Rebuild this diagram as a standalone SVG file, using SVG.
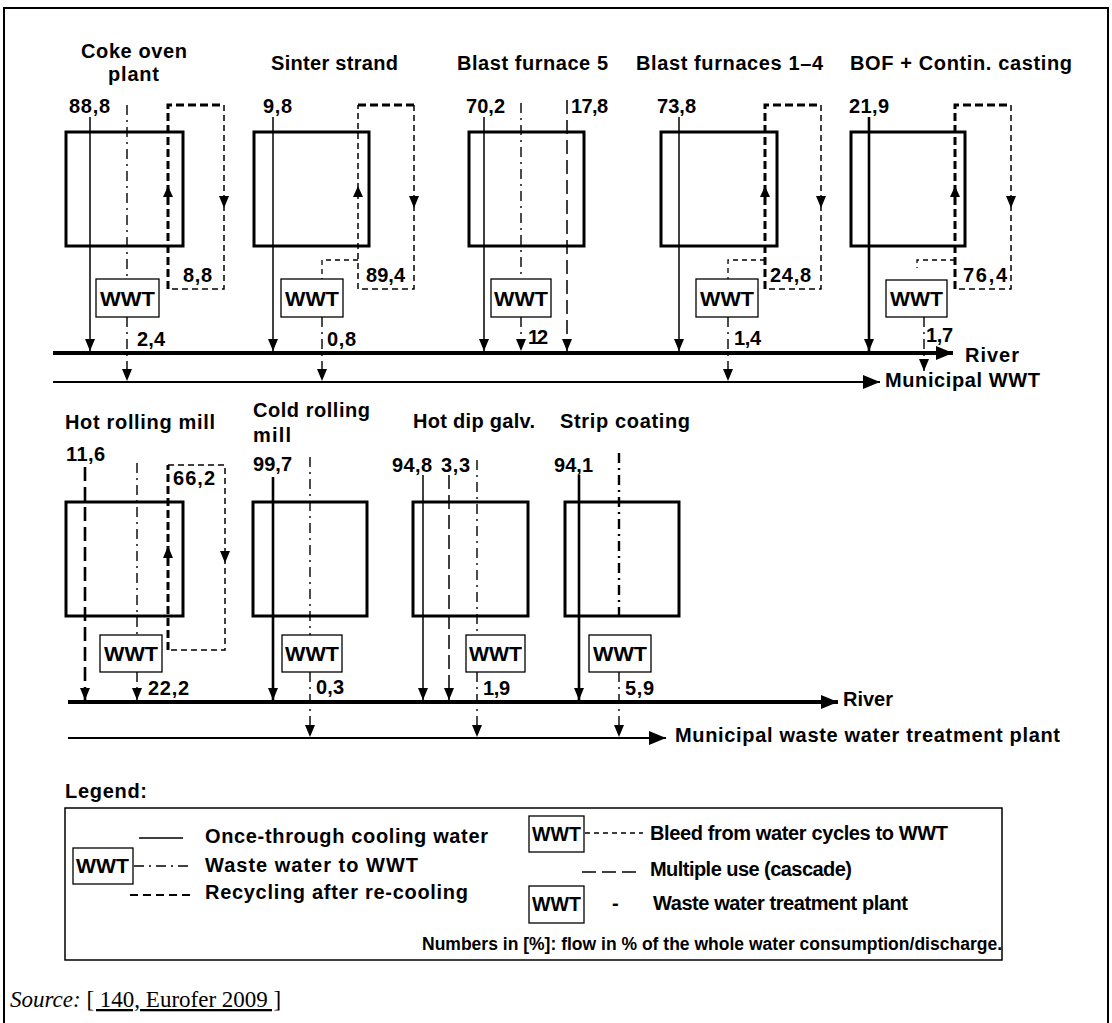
<svg xmlns="http://www.w3.org/2000/svg" width="1112" height="1023" viewBox="0 0 1112 1023">
<style>
text{font-family:"Liberation Sans",Arial,sans-serif;font-weight:bold;font-size:20px;fill:#000}
.sm{font-size:17.5px}
.wt{font-size:20px}
.src{font-family:"Liberation Serif","Times New Roman",serif;font-weight:normal;font-size:23px}
.box{fill:none;stroke:#000;stroke-width:3}
.wwt{fill:#fff;stroke:#000;stroke-width:1.3}
.solid{fill:none;stroke:#000;stroke-width:1.5}
.solidT{fill:none;stroke:#000;stroke-width:2.6}
.dd{fill:none;stroke:#000;stroke-width:1.4;stroke-dasharray:10 5 2 5}
.ddT{fill:none;stroke:#000;stroke-width:2.4;stroke-dasharray:10 5 2 5}
.rcT{fill:none;stroke:#000;stroke-width:3;stroke-dasharray:8 4}
.rc{fill:none;stroke:#000;stroke-width:1.5;stroke-dasharray:6 4}
.bl{fill:none;stroke:#000;stroke-width:1.3;stroke-dasharray:5 4}
.cs{fill:none;stroke:#000;stroke-width:1.5;stroke-dasharray:14 6}
.csT{fill:none;stroke:#000;stroke-width:2.6;stroke-dasharray:14 6}
.river{fill:none;stroke:#000;stroke-width:4}
.muni{fill:none;stroke:#000;stroke-width:2}
.ah{fill:#000}
</style>
<defs>
<marker id="a" viewBox="0 0 12 10" refX="12" refY="5" markerWidth="12" markerHeight="10" orient="auto" markerUnits="userSpaceOnUse"><path d="M0,0 L12,5 L0,10 Z" fill="#000"/></marker>
<marker id="b" viewBox="0 0 17 14" refX="17" refY="7" markerWidth="17" markerHeight="14" orient="auto" markerUnits="userSpaceOnUse"><path d="M0,0 L17,7 L0,14 Z" fill="#000"/></marker>
</defs>
<rect width="1112" height="1023" fill="#fff"/>
<path d="M4,1023 V8 H1108 V1023" fill="none" stroke="#000" stroke-width="2"/>

<g id="connectors">
<line class="river" x1="53" y1="353" x2="953" y2="353" marker-end="url(#b)"/>
<line class="muni" x1="53" y1="382" x2="880" y2="382" marker-end="url(#b)"/>
<line class="solid" x1="90" y1="117" x2="90" y2="351" marker-end="url(#a)"/>
<line class="dd" x1="127" y1="105" x2="127" y2="279"/>
<line class="dd" x1="127" y1="317" x2="127" y2="381" marker-end="url(#a)"/>
<path class="rcT" d="M168,289 V105 H224"/>
<path class="rc" d="M224,105 V289 H168"/>
<polygon class="ah" points="163,197 173,197 168,186"/>
<polygon class="ah" points="219,196 229,196 224,208"/>
<line class="solid" x1="273" y1="117" x2="273" y2="351" marker-end="url(#a)"/>
<path class="rc" d="M358,289 V105"/>
<path class="rcT" d="M358,105 H414"/>
<path class="rc" d="M414,105 V289 H358"/>
<path class="bl" d="M358,260 H322 V279"/>
<line class="dd" x1="322" y1="317" x2="322" y2="381" marker-end="url(#a)"/>
<polygon class="ah" points="353,197 363,197 358,186"/>
<polygon class="ah" points="409,196 419,196 414,208"/>
<line class="solid" x1="484" y1="117" x2="484" y2="351" marker-end="url(#a)"/>
<line class="dd" x1="521" y1="103" x2="521" y2="279"/>
<line class="dd" x1="521" y1="317" x2="521" y2="351" marker-end="url(#a)"/>
<line class="cs" x1="567" y1="100" x2="567" y2="351" marker-end="url(#a)"/>
<line class="solid" x1="679" y1="117" x2="679" y2="351" marker-end="url(#a)"/>
<path class="rcT" d="M765,289 V105 H821"/>
<path class="rc" d="M821,105 V289 H765"/>
<path class="bl" d="M765,260 H728 V279"/>
<line class="dd" x1="728" y1="317" x2="728" y2="381" marker-end="url(#a)"/>
<polygon class="ah" points="760,197 770,197 765,186"/>
<polygon class="ah" points="816,196 826,196 821,208"/>
<line class="solidT" x1="869" y1="117" x2="869" y2="351" marker-end="url(#a)"/>
<path class="rcT" d="M955,289 V105 H1011"/>
<path class="rc" d="M1011,105 V289 H955"/>
<path class="bl" d="M955,260 H917 V268"/>
<line class="dd" x1="924" y1="317" x2="924" y2="371" marker-end="url(#a)"/>
<polygon class="ah" points="950,197 960,197 955,186"/>
<polygon class="ah" points="1006,196 1016,196 1011,208"/>

<line class="river" x1="68" y1="702" x2="838" y2="702" marker-end="url(#b)"/>
<line class="muni" x1="68" y1="738" x2="666" y2="738" marker-end="url(#b)"/>
<line class="csT" x1="85" y1="467" x2="85" y2="700" marker-end="url(#a)"/>
<line class="dd" x1="137" y1="463" x2="137" y2="635"/>
<line class="dd" x1="137" y1="672" x2="137" y2="700" marker-end="url(#a)"/>
<path class="rcT" d="M168,650 V465"/>
<path class="rc" d="M168,465 H225 V650 H168"/>
<polygon class="ah" points="163,558 173,558 168,546"/>
<polygon class="ah" points="220,551 230,551 225,563"/>
<line class="solidT" x1="273" y1="477" x2="273" y2="700" marker-end="url(#a)"/>
<line class="dd" x1="310" y1="457" x2="310" y2="635"/>
<line class="dd" x1="310" y1="672" x2="310" y2="737" marker-end="url(#a)"/>
<line class="solid" x1="423" y1="475" x2="423" y2="700" marker-end="url(#a)"/>
<line class="cs" x1="449" y1="475" x2="449" y2="700" marker-end="url(#a)"/>
<line class="dd" x1="477" y1="460" x2="477" y2="635"/>
<line class="dd" x1="477" y1="672" x2="477" y2="737" marker-end="url(#a)"/>
<line class="solidT" x1="579" y1="475" x2="579" y2="700" marker-end="url(#a)"/>
<line class="ddT" x1="619" y1="453" x2="619" y2="620"/>
<line class="dd" x1="619" y1="672" x2="619" y2="737" marker-end="url(#a)"/>
</g>

<g id="coke-oven">
<rect class="box" x="66" y="132" width="117" height="114"/>
<text x="81" y="58" textLength="106" lengthAdjust="spacing">Coke oven</text>
<text x="108" y="81" textLength="51" lengthAdjust="spacing">plant</text>
<text x="69" y="113" textLength="41" lengthAdjust="spacing">88,8</text>
<text x="183" y="282" textLength="29" lengthAdjust="spacing">8,8</text>
<text x="137" y="346" textLength="28" lengthAdjust="spacing">2,4</text>
</g>
<g id="coke-oven-wwt"><rect class="wwt" x="96" y="279" width="63" height="38"/><text class="wt" x="100" y="306" textLength="55" lengthAdjust="spacingAndGlyphs">WWT</text></g>

<g id="sinter-strand">
<rect class="box" x="254" y="132" width="115" height="114"/>
<text x="271" y="70" textLength="127" lengthAdjust="spacing">Sinter strand</text>
<text x="263" y="113" textLength="29" lengthAdjust="spacing">9,8</text>
<text x="366" y="282" textLength="39" lengthAdjust="spacing">89,4</text>
<text x="327" y="346" textLength="29" lengthAdjust="spacing">0,8</text>
</g>
<g id="sinter-wwt"><rect class="wwt" x="281" y="279" width="62" height="38"/><text class="wt" x="285" y="306" textLength="54" lengthAdjust="spacingAndGlyphs">WWT</text></g>

<g id="blast-furnace-5">
<rect class="box" x="469" y="132" width="115" height="114"/>
<text x="457" y="70" textLength="151" lengthAdjust="spacing">Blast furnace 5</text>
<text x="466" y="113" textLength="39" lengthAdjust="spacing">70,2</text>
<text x="571" y="113" textLength="37" lengthAdjust="spacing">17,8</text>
<text x="528" y="344" textLength="20" lengthAdjust="spacing">12</text>
</g>
<g id="bf5-wwt"><rect class="wwt" x="491" y="279" width="60" height="38"/><text class="wt" x="494" y="306" textLength="54" lengthAdjust="spacingAndGlyphs">WWT</text></g>

<g id="blast-furnaces-1-4">
<rect class="box" x="661" y="132" width="116" height="114"/>
<text x="636" y="70" textLength="187" lengthAdjust="spacing">Blast furnaces 1–4</text>
<text x="657" y="113" textLength="39" lengthAdjust="spacing">73,8</text>
<text x="770" y="282" textLength="41" lengthAdjust="spacing">24,8</text>
<text x="734" y="345" textLength="27" lengthAdjust="spacing">1,4</text>
</g>
<g id="bf14-wwt"><rect class="wwt" x="696" y="279" width="62" height="38"/><text class="wt" x="700" y="306" textLength="54" lengthAdjust="spacingAndGlyphs">WWT</text></g>

<g id="bof">
<rect class="box" x="851" y="132" width="114" height="114"/>
<text x="850" y="70" textLength="222" lengthAdjust="spacing">BOF + Contin. casting</text>
<text x="849" y="113" textLength="40" lengthAdjust="spacing">21,9</text>
<text x="963" y="282" textLength="44" lengthAdjust="spacing">76,4</text>
<text x="926" y="342" textLength="27" lengthAdjust="spacing">1,7</text>
</g>
<g id="bof-wwt"><rect class="wwt" x="886" y="280" width="61" height="37"/><text class="wt" x="890" y="306" textLength="53" lengthAdjust="spacingAndGlyphs">WWT</text></g>

<g id="river-upper"><text x="965" y="362" textLength="54" lengthAdjust="spacing">River</text></g>
<g id="municipal-upper"><text x="885" y="387" textLength="155" lengthAdjust="spacing">Municipal WWT</text></g>

<g id="hot-rolling-mill">
<rect class="box" x="66" y="502" width="117" height="114"/>
<text x="65" y="429" textLength="150" lengthAdjust="spacing">Hot rolling mill</text>
<text x="66" y="461" textLength="39" lengthAdjust="spacing">11,6</text>
<text x="173" y="485" textLength="42" lengthAdjust="spacing">66,2</text>
<text x="148" y="695" textLength="41" lengthAdjust="spacing">22,2</text>
</g>
<g id="hrm-wwt"><rect class="wwt" x="100" y="635" width="62" height="37"/><text class="wt" x="104" y="661" textLength="54" lengthAdjust="spacingAndGlyphs">WWT</text></g>

<g id="cold-rolling-mill">
<rect class="box" x="253" y="502" width="114" height="114"/>
<text x="253" y="417" textLength="117" lengthAdjust="spacing">Cold rolling</text>
<text x="253" y="442" textLength="38" lengthAdjust="spacing">mill</text>
<text x="253" y="471" textLength="39" lengthAdjust="spacing">99,7</text>
<text x="316" y="694" textLength="28" lengthAdjust="spacing">0,3</text>
</g>
<g id="crm-wwt"><rect class="wwt" x="282" y="635" width="60" height="37"/><text class="wt" x="285" y="661" textLength="54" lengthAdjust="spacingAndGlyphs">WWT</text></g>

<g id="hot-dip-galv">
<rect class="box" x="413" y="502" width="115" height="114"/>
<text x="413" y="428" textLength="122" lengthAdjust="spacing">Hot dip galv.</text>
<text x="392" y="472" textLength="40" lengthAdjust="spacing">94,8</text>
<text x="441" y="472" textLength="29" lengthAdjust="spacing">3,3</text>
<text x="483" y="695" textLength="27" lengthAdjust="spacing">1,9</text>
</g>
<g id="hdg-wwt"><rect class="wwt" x="466" y="635" width="59" height="37"/><text class="wt" x="469" y="661" textLength="53" lengthAdjust="spacingAndGlyphs">WWT</text></g>

<g id="strip-coating">
<rect class="box" x="565" y="502" width="114" height="114"/>
<text x="560" y="428" textLength="130" lengthAdjust="spacing">Strip coating</text>
<text x="554" y="472" textLength="39" lengthAdjust="spacing">94,1</text>
<text x="625" y="695" textLength="29" lengthAdjust="spacing">5,9</text>
</g>
<g id="sc-wwt"><rect class="wwt" x="589" y="635" width="62" height="37"/><text class="wt" x="593" y="661" textLength="54" lengthAdjust="spacingAndGlyphs">WWT</text></g>

<g id="river-lower"><text x="843" y="706" textLength="50" lengthAdjust="spacing">River</text></g>
<g id="municipal-lower"><text x="675" y="742" textLength="385" lengthAdjust="spacing">Municipal waste water treatment plant</text></g>

<g id="legend">
<text x="65" y="798" textLength="82" lengthAdjust="spacing">Legend:</text>
<rect x="65" y="808" width="937" height="152" fill="none" stroke="#000" stroke-width="1.5"/>
<line x1="139" y1="838" x2="183" y2="838" stroke="#000" stroke-width="1.3"/>
<text x="205" y="843" textLength="283" lengthAdjust="spacing">Once-through cooling water</text>
<rect class="wwt" x="73" y="848" width="60" height="36"/>
<text class="wt" x="76" y="873" textLength="53" lengthAdjust="spacingAndGlyphs">WWT</text>
<line class="dd" x1="134" y1="866" x2="193" y2="866" style="stroke-width:1.3"/>
<text x="205" y="872" textLength="213" lengthAdjust="spacing">Waste water to WWT</text>
<line x1="130" y1="895" x2="193" y2="895" stroke="#000" stroke-width="2" stroke-dasharray="8 5"/>
<text x="205" y="899" textLength="263" lengthAdjust="spacing">Recycling after re-cooling</text>
<rect class="wwt" x="529" y="816" width="55" height="36"/>
<text class="wt" x="532" y="841" textLength="49" lengthAdjust="spacingAndGlyphs">WWT</text>
<line class="bl" x1="585" y1="833" x2="643" y2="833"/>
<text x="650" y="840" textLength="298" lengthAdjust="spacing">Bleed from water cycles to  WWT</text>
<line x1="582" y1="872" x2="636" y2="872" stroke="#000" stroke-width="1.3" stroke-dasharray="14 6"/>
<text x="650" y="876" textLength="202" lengthAdjust="spacing">Multiple use (cascade)</text>
<rect class="wwt" x="529" y="886" width="55" height="37"/>
<text class="wt" x="532" y="911" textLength="49" lengthAdjust="spacingAndGlyphs">WWT</text>
<text x="612" y="910">-</text>
<text x="653" y="910" textLength="255" lengthAdjust="spacing">Waste water treatment plant</text>
<text class="sm" x="422" y="950" textLength="580" lengthAdjust="spacing">Numbers in [%]: flow in % of the whole water consumption/discharge.</text>
</g>

<g id="source">
<text class="src" x="10" y="1007"><tspan font-style="italic">Source:</tspan> <tspan text-decoration="underline">[ 140, Eurofer 2009 ]</tspan></text>
</g>
</svg>
